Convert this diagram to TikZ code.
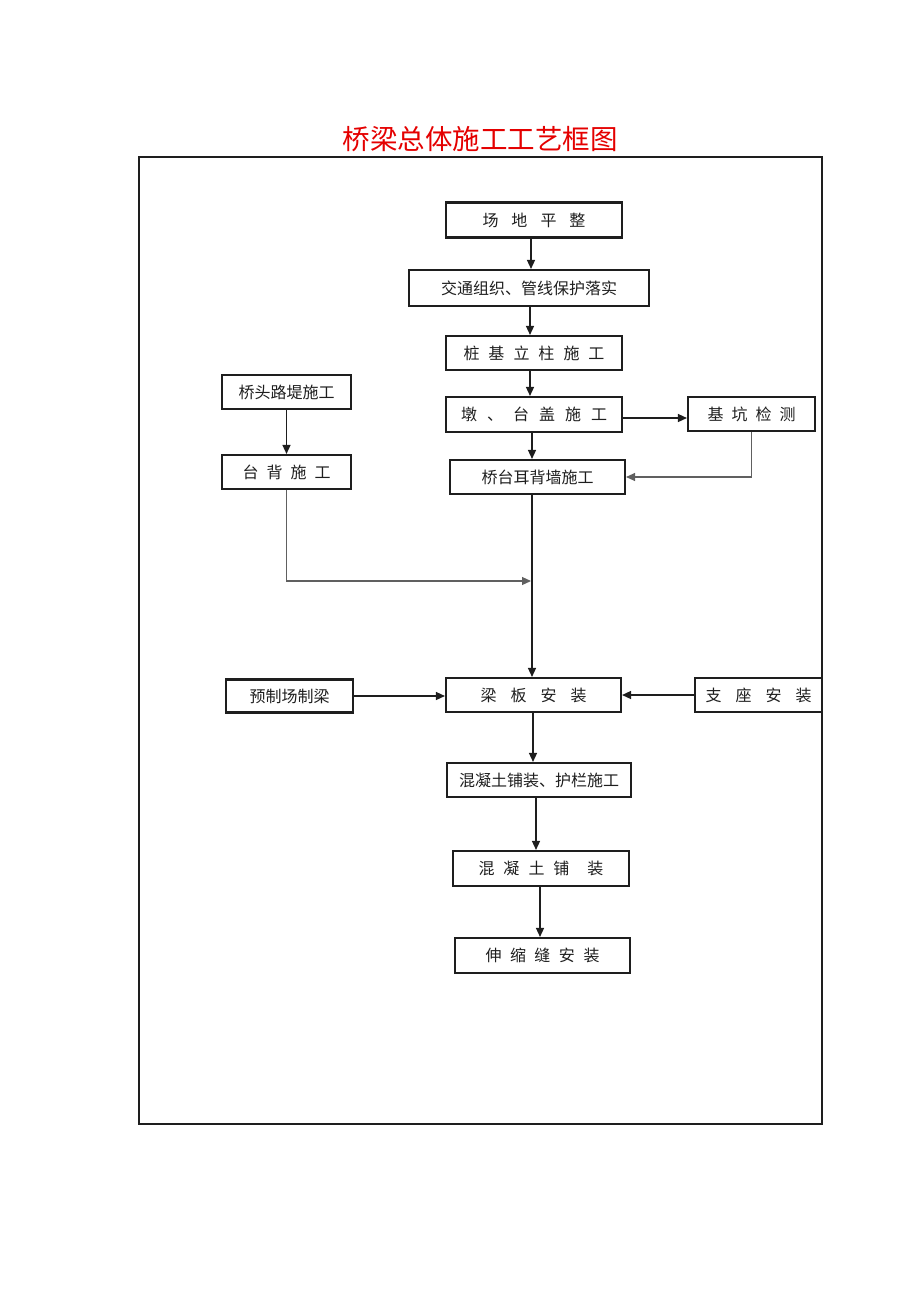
\documentclass[tikz,border=0pt]{standalone}
\usepackage{fontspec}
\setmainfont{Noto Sans CJK SC}
\usetikzlibrary{arrows.meta}
\definecolor{titlered}{RGB}{228,0,0}
\definecolor{ink}{RGB}{30,30,30}
\tikzset{
  box/.style={draw=ink, line width=2.1pt, inner sep=0pt, text=ink,
    font=\fontsize{16}{16}\selectfont, anchor=center},
  arr/.style={draw=ink, line width=1.4pt, -{Triangle[length=9pt,width=8pt]}},
  thinarr/.style={draw=gray!75!black, line width=1.1pt, -{Triangle[length=9pt,width=8pt]}},
}
\newcommand{\gp}[1]{\hspace{#1pt}}
\begin{document}
\begin{tikzpicture}[x=1pt,y=-1pt]
\useasboundingbox (0,0) rectangle (920,1301);
% title
\node[text=titlered, font=\fontsize{27.5}{27.5}\selectfont] (title) at (480,139) {桥梁总体施工工艺框图};
% frame
\draw[draw=ink, line width=2pt] (139,157) rectangle (822,1124);
% nodes
\node[box, minimum width=176, minimum height=35] (n1) at (534,220) {场\gp{13}地\gp{13}平\gp{13}整};
\node[box, minimum width=240, minimum height=36] (n2) at (529,288) {交通组织、管线保护落实};
\node[box, minimum width=176, minimum height=34] (n3) at (534,353) {桩\gp{9}基\gp{9}立\gp{9}柱\gp{9}施\gp{9}工};
\node[box, minimum width=176, minimum height=35] (n4) at (534,414.5) {墩\gp{10}、\gp{10}台\gp{10}盖\gp{10}施\gp{10}工};
\node[box, minimum width=127, minimum height=34] (jk) at (751.5,414) {基\gp{8}坑\gp{8}检\gp{8}测};
\node[box, minimum width=175, minimum height=34] (n5) at (537.5,477) {桥台耳背墙施工};
\node[box, minimum width=129, minimum height=34] (qt) at (286.5,392) {桥头路堤施工};
\node[box, minimum width=129, minimum height=34] (tb) at (286.5,472) {台\gp{8}背\gp{8}施\gp{8}工};
\node[box, minimum width=175, minimum height=34] (lb) at (533.5,695) {梁\gp{14}板\gp{14}安\gp{14}装};
\node[box, minimum width=127, minimum height=33] (yz) at (289.5,696) {预制场制梁};
\node[box, minimum width=127, minimum height=34] (zz) at (758.5,695) {支\gp{14}座\gp{14}安\gp{14}装};
\node[box, minimum width=184, minimum height=34] (h1) at (539,780) {混凝土铺装、护栏施工};
\node[box, minimum width=176, minimum height=35] (h2) at (541,868.5) {混\gp{9}凝\gp{9}土\gp{9}铺\gp{18}装};
\node[box, minimum width=175, minimum height=35] (ss) at (542.5,955.5) {伸\gp{8.5}缩\gp{8.5}缝\gp{8.5}安\gp{8.5}装};
% helper coordinates
\coordinate (x531) at (531,0);
\coordinate (x530) at (530,0);
\coordinate (x532) at (532,0);
\coordinate (x533) at (533,0);
\coordinate (x536) at (536,0);
\coordinate (x540) at (540,0);
\coordinate (y418) at (0,418);
\coordinate (join) at (531,581);
% connectors
\draw[arr] (n1.south -| x531) -- (n2.north -| x531);
\draw[arr] (n2.south -| x530) -- (n3.north -| x530);
\draw[arr] (n3.south -| x530) -- (n4.north -| x530);
\draw[arr] (n4.east |- y418) -- (jk.west |- y418);
\draw[arr] (n4.south -| x532) -- (n5.north -| x532);
\draw[thinarr] (jk.south) |- (n5.east);
\draw[arr] (qt) -- (tb);
\draw[thinarr] (tb.south) |- (join);
\draw[arr] (n5.south -| x532) -- (lb.north -| x532);
\draw[arr] (yz.east) -- (yz.east -| lb.west);
\draw[arr] (zz.west |- lb.east) -- (lb.east);
\draw[arr] (lb.south -| x533) -- (h1.north -| x533);
\draw[arr] (h1.south -| x536) -- (h2.north -| x536);
\draw[arr] (h2.south -| x540) -- (ss.north -| x540);
\end{tikzpicture}
\end{document}
